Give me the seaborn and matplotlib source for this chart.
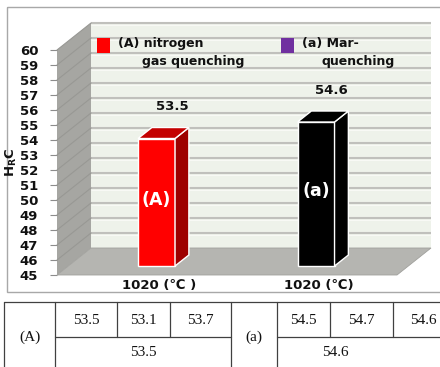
import numpy as np
import matplotlib
matplotlib.use("Agg")
import matplotlib.pyplot as plt
import matplotlib.transforms as mtransforms
from matplotlib.patches import Polygon, Rectangle
import seaborn as sns

# ---- data ----
treatments = ["(A)", "(a)"]
mean_hrc = [53.5, 54.6]
x_labels = ["1020 (℃ )", "1020 (℃)"]
legend_line1 = ["(A) nitrogen", "(a) Mar-"]
legend_line2 = ["gas quenching", "quenching"]
rep_A = [53.5, 53.1, 53.7]
rep_a = [54.5, 54.7, 54.6]
table_means = ["53.5", "54.6"]
y_ticks = list(range(45, 61))

bar_front = ["#FF0000", "#000000"]
bar_side = ["#9E0000", "#000000"]
bar_top = ["#C40000", "#000000"]
legend_colors = ["#FF0000", "#7030A0"]

sns.set_theme(style="white")
plt.rcParams["font.family"] = ["DejaVu Sans"]

W, H = 440, 367
fig = plt.figure(figsize=(W / 100, H / 100), dpi=100, facecolor="white")


def pixel_layer(z):
    layer = fig.add_axes([0, 0, 1, 1])
    layer.set_xlim(0, W)
    layer.set_ylim(H, 0)
    layer.axis("off")
    layer.set_zorder(z)
    layer.patch.set_visible(False)
    return layer


# pixel-space layers: frame/table underneath, legend on top
bg = pixel_layer(0)
fg = pixel_layer(5)

# front plane of the 3-D box
L_PX, R_PX, T_PX, B_PX = 57, 397, 50, 275
ax = fig.add_axes([L_PX / W, (H - B_PX) / H, (R_PX - L_PX) / W, (B_PX - T_PX) / H])
ax.set_zorder(2)
ax.patch.set_visible(False)

UNIT_PX = 159.5
X0_PX = 145.2
XL = (L_PX - X0_PX) / UNIT_PX
XR = (R_PX - X0_PX) / UNIT_PX
FLOOR, TOP = 45, 60
D_X = 34 / UNIT_PX          # full depth, x data units
D_Y = 27 / 15.0             # full depth, y data units
T0, T1 = 1 / 3, 0.74        # depth span of the bars


def proj(x, y, t):
    return (x + t * D_X, y + t * D_Y)


# bars
sns.barplot(x=treatments, y=mean_hrc, hue=treatments, palette=bar_front, saturation=1,
            width=0.232, legend=False, ax=ax, edgecolor="white", linewidth=1)
bars = [b for c in ax.containers for b in c]

# walls and floor
side = Polygon([proj(XL, FLOOR, 0), proj(XL, TOP, 0), proj(XL, TOP, 1), proj(XL, FLOOR, 1)],
               closed=True, facecolor="#A6A6A2", edgecolor="none", zorder=0.5, clip_on=False)
back = Polygon([proj(XL, FLOOR, 1), proj(XL, TOP, 1), proj(XR, TOP, 1), proj(XR, FLOOR, 1)],
               closed=True, facecolor="#EEF2EA", edgecolor="none", zorder=0.5, clip_on=False)
floor = Polygon([proj(XL, FLOOR, 0), proj(XR, FLOOR, 0), proj(XR, FLOOR, 1), proj(XL, FLOOR, 1)],
                closed=True, facecolor="#B5B5B1", edgecolor="#A0A09C", linewidth=0.6,
                zorder=0.6, clip_on=False)
for p in (side, back, floor):
    ax.add_patch(p)

for y in y_ticks[1:]:
    (bx0, by0), (bx1, by1) = proj(XL, y, 1), proj(XR, y, 1)
    ax.plot([bx0, bx1], [by0, by1], color="#C0C0BC", lw=1.5, zorder=0.7, clip_on=False,
            solid_capstyle="butt")
    ax.plot([bx0, bx1], [by0 - 0.1, by1 - 0.1], color="#FAFBF8", lw=0.6, zorder=0.7,
            clip_on=False, solid_capstyle="butt")
    (sx0, sy0), (sx1, sy1) = proj(XL, y, 0), proj(XL, y, 1)
    ax.plot([sx0, sx1], [sy0, sy1], color="#989894", lw=0.8, zorder=0.7, clip_on=False)

shift = mtransforms.Affine2D().translate(T0 * D_X, T0 * D_Y)
for i, (patch, v) in enumerate(zip(bars, mean_hrc)):
    x0 = patch.get_x()
    x1 = x0 + patch.get_width()
    patch.set_y(FLOOR)
    patch.set_height(v - FLOOR)
    patch.set_transform(shift + ax.transData)
    patch.set_zorder(3)
    patch.set_clip_on(False)
    top = Polygon([proj(x0, v, T0), proj(x1, v, T0), proj(x1, v, T1), proj(x0, v, T1)],
                  closed=True, facecolor=bar_top[i], edgecolor="white", lw=1, zorder=3,
                  clip_on=False)
    sidef = Polygon([proj(x1, FLOOR, T0), proj(x1, v, T0), proj(x1, v, T1), proj(x1, FLOOR, T1)],
                    closed=True, facecolor=bar_side[i], edgecolor="white", lw=1, zorder=3,
                    clip_on=False)
    ax.add_patch(sidef)
    ax.add_patch(top)
    cx, cy = proj((x0 + x1) / 2, FLOOR + (v - FLOOR) * 0.52, T0)
    ax.text(cx, cy, treatments[i], color="white", fontsize=12.5, fontweight="bold",
            ha="center", va="center", zorder=4)
    lx, ly = proj((x0 + x1) / 2, v, T1)
    ax.annotate(f"{v:.1f}", xy=(lx, ly), xytext=(2, 21), textcoords="offset pixels",
                ha="center", va="center", fontsize=9.5, fontweight="bold", color="#111111",
                zorder=4)

ax.set_xlim(XL, XR)
ax.set_ylim(FLOOR, TOP)
ax.set_yticks(y_ticks)
ax.set_yticklabels([str(t) for t in y_ticks])
ax.set_xticks(np.arange(len(treatments)) + 0.09)
ax.set_xticklabels(x_labels)
ax.tick_params(axis="y", length=5, width=0.8, color="#8C8C8C", pad=8.5, labelsize=9.5,
               left=True, labelcolor="#111111")
ax.tick_params(axis="x", length=0, pad=3, labelsize=9.5, labelcolor="#111111")
for lbl in ax.get_yticklabels() + ax.get_xticklabels():
    lbl.set_fontweight("bold")
for s in ax.spines.values():
    s.set_visible(False)
ax.set_xlabel("")
ax.set_ylabel("")

# y-axis title
fg.text(11, 162, r"H$_{\mathbf{R}}$C", rotation=90, fontsize=9.5, fontweight="bold",
        ha="center", va="center", color="#111111")

# chart frame
bg.add_patch(Rectangle((7, 7), W, 285, facecolor="none", edgecolor="#A8A8A8", lw=1))

# legend
for i, (sq_x, t1_x, t2_x) in enumerate([(97, 118, 142), (281, 302, 322)]):
    fg.add_patch(Rectangle((sq_x, 38), 13, 15, facecolor=legend_colors[i], edgecolor="none"))
    fg.text(t1_x, 44, legend_line1[i], fontsize=9, fontweight="bold", ha="left", va="center",
            color="#111111")
    fg.text(t2_x, 61, legend_line2[i], fontsize=9, fontweight="bold", ha="left", va="center",
            color="#111111")

# data table
lc = dict(color="#404040", lw=0.9)
bg.plot([4, W], [302, 302], **lc)
bg.plot([55, 231], [337, 337], **lc)
bg.plot([277, W], [337, 337], **lc)
for x in (4, 55, 231, 277):
    bg.plot([x, x], [302, H], **lc)
for x in (117, 170, 330, 393):
    bg.plot([x, x], [302, 337], **lc)

serif = dict(family="Liberation Serif", fontsize=11, color="#111111", va="center", ha="center")
bg.text(30, 337, treatments[0], **serif)
bg.text(254, 337, treatments[1], **serif)
for x, v in zip((86, 143.5, 200.5), rep_A):
    bg.text(x, 321, f"{v:.1f}", **serif)
for x, v in zip((303.5, 361.5, 423), rep_a):
    bg.text(x, 321, f"{v:.1f}", **serif)
bg.text(143, 353, table_means[0], **serif)
bg.text(335, 353, table_means[1], **serif)

fig.savefig("out.png", dpi=100, facecolor="white")
